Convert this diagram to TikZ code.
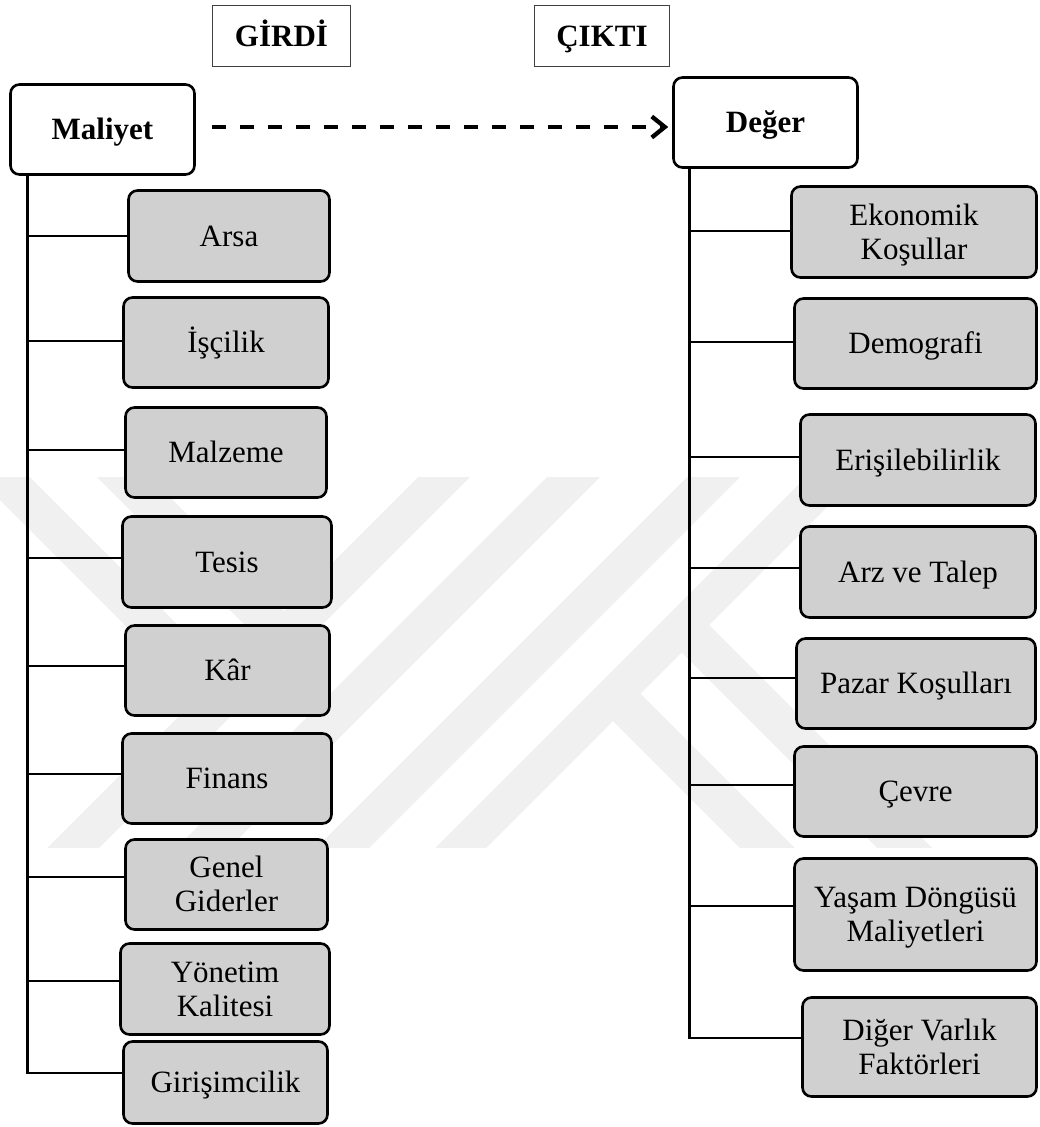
\documentclass[tikz,border=0pt]{standalone}
\usepackage{fontspec}
\setmainfont{Liberation Serif}
\usetikzlibrary{arrows.meta,calc}
\definecolor{boxgray}{RGB}{208,208,208}
\definecolor{markgray}{RGB}{240,240,240}
% two centred lines with fixed top and bottom room
\newcommand\twolines[2]{\rule{0pt}{27pt}#1\\#2\rule[-7pt]{0pt}{7pt}}

\begin{document}
\begin{tikzpicture}[x=1pt,y=-1pt,
  every node/.style={font=\fontsize{31}{34}\selectfont, align=center, inner sep=0pt},
  oneline/.style={text height=27pt, text depth=7pt},
  headbox/.style={oneline, draw=black!75, line width=1.2pt, font=\fontsize{31}{34}\selectfont\bfseries},
  mainbox/.style={oneline, draw=black, line width=2.6pt, rounded corners=9pt, fill=white,
                  font=\fontsize{31}{34}\selectfont\bfseries},
  subbox/.style={draw=black, line width=2.6pt, rounded corners=9pt, fill=boxgray},
  trunk/.style={line width=2.6pt},
  branch/.style={line width=2.2pt},
  flow/.style={line width=4.3pt, dash pattern=on 14pt off 14pt,
               -{Straight Barb[length=13pt,width=21pt]}},
]
\useasboundingbox (0,0) rectangle (1039,1127);

% faint background emblem
\begin{scope}
  \clip (0,477) rectangle (1039,847);
  \fill[markgray] (455,440) -- (507,440) -- (67,880) -- (15,880) -- cycle;
  \fill[markgray] (584,440) -- (637,440) -- (197,880) -- (144,880) -- cycle;
  \fill[markgray] (724,440) -- (777,440) -- (337,880) -- (284,880) -- cycle;
  \fill[markgray] (843,440) -- (894,440) -- (454,880) -- (403,880) -- cycle;
  \fill[markgray] (-60,440) -- (-7,440) -- (250,697) -- (223.5,723.5) -- cycle;
  \fill[markgray] (60,440) -- (113,440) -- (310,637) -- (283.5,663.5) -- cycle;
  \fill[markgray] (596,704) -- (623.5,676.5) -- (827,880) -- (772,880) -- cycle;
  \fill[markgray] (664.5,635.5) -- (692,608) -- (964,880) -- (909,880) -- cycle;
\end{scope}

% headings
\node[headbox, minimum width=138pt, minimum height=61pt] (girdi) at (281.5,36) {GİRDİ};
\node[headbox, minimum width=135pt, minimum height=61pt] (cikti) at (602,36) {ÇIKTI};

% main boxes
\node[mainbox, minimum width=184pt, minimum height=90pt] (maliyet) at (102.5,129.5) {Maliyet};
\node[mainbox, minimum width=184pt, minimum height=90pt] (deger) at (765.5,122.5) {Değer};

\draw[flow] ($(maliyet.east)+(16,-2.5)$) -- ($(deger.west)+(-4,4.5)$);

% cost items
\node[subbox, oneline, minimum width=201pt, minimum height=91pt] (arsa)    at (229,236)     {Arsa};
\node[subbox, oneline, minimum width=205pt, minimum height=90pt] (iscilik) at (226,342.5)   {İşçilik};
\node[subbox, oneline, minimum width=201pt, minimum height=90pt] (malzeme) at (226,452.5)   {Malzeme};
\node[subbox, oneline, minimum width=209pt, minimum height=91pt] (tesis)   at (227,562)     {Tesis};
\node[subbox, oneline, minimum width=204pt, minimum height=90pt] (kar)     at (227.5,670.5) {Kâr};
\node[subbox, oneline, minimum width=209pt, minimum height=90pt] (finans)  at (227,778.5)   {Finans};
\node[subbox, minimum width=202pt, minimum height=90pt] (genel)   at (226.5,884.5) {\twolines{Genel}{Giderler}};
\node[subbox, minimum width=209pt, minimum height=91pt] (yonetim) at (225,989)     {\twolines{Yönetim}{Kalitesi}};
\node[subbox, oneline, minimum width=204pt, minimum height=82pt] (giris)   at (225.5,1082.5){Girişimcilik};

% value items
\node[subbox, minimum width=245pt, minimum height=91pt]  (ekon)  at (914,232)     {\twolines{Ekonomik}{Koşullar}};
\node[subbox, oneline, minimum width=242pt, minimum height=90pt]  (demo)  at (915.5,343.5) {Demografi};
\node[subbox, oneline, minimum width=235pt, minimum height=91pt]  (eris)  at (918,460)     {Erişilebilirlik};
\node[subbox, oneline, minimum width=235pt, minimum height=91pt]  (arz)   at (918,572)     {Arz ve Talep};
\node[subbox, oneline, minimum width=239pt, minimum height=90pt]  (pazar) at (916,683.5)   {Pazar Koşulları};
\node[subbox, oneline, minimum width=242pt, minimum height=90pt]  (cevre) at (915.5,791.5) {Çevre};
\node[subbox, minimum width=242pt, minimum height=112pt] (yasam) at (915.5,914.5) {\twolines{Yaşam Döngüsü}{Maliyetleri}};
\node[subbox, minimum width=234pt, minimum height=99pt]  (diger) at (919.5,1047)  {\twolines{Diğer Varlık}{Faktörleri}};

% tree lines
\path (maliyet.south west) ++(18.5,0) coordinate (ltop);
\path (deger.south west) ++(17.5,0) coordinate (rtop);

\foreach \n/\s in {arsa/0, iscilik/1.5, malzeme/2.5, tesis/4, kar/4.5, finans/4.5,
                   genel/7.5, yonetim/8, giris/9.5} {
  \coordinate (\n-in) at ([yshift=\s pt]\n.west);
}
\foreach \n/\s in {ekon/1, demo/1.5, eris/3, arz/4, pazar/5.5, cevre/6.5,
                   yasam/8.5, diger/9} {
  \coordinate (\n-in) at ([yshift=\s pt]\n.west);
}

\foreach \n in {arsa, iscilik, malzeme, tesis, kar, finans, genel, yonetim} {
  \draw[branch] (\n-in) -- (ltop |- \n-in);
}
\draw[trunk] (ltop) |- (giris-in);

\foreach \n in {ekon, demo, eris, arz, pazar, cevre, yasam} {
  \draw[branch] (\n-in) -- (rtop |- \n-in);
}
\draw[trunk] (rtop) |- (diger-in);
\end{tikzpicture}
\end{document}
